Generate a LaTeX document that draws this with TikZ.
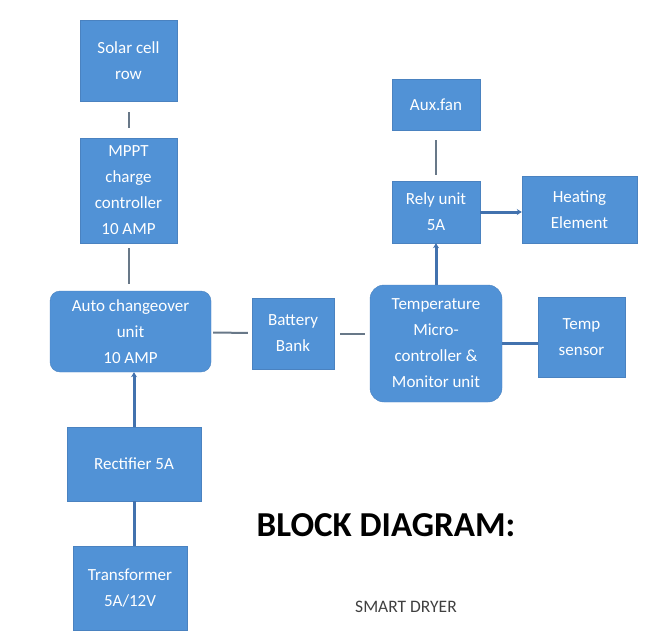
\documentclass[tikz,border=0pt]{standalone}
\usepackage{fontspec}
\setmainfont{Carlito}
\usetikzlibrary{arrows.meta}
\definecolor{blockblue}{HTML}{5192D6}
\definecolor{blockedge}{HTML}{4A82C0}
\definecolor{wiregray}{HTML}{687888}
\definecolor{wireblue}{HTML}{4272AE}
\begin{document}
\begin{tikzpicture}[x=1pt,y=-1pt,
    block/.style={draw=blockedge,fill=blockblue,text=white,align=center,inner sep=2pt,
      font=\fontsize{17}{26}\selectfont},
    wire/.style={draw=wiregray,line width=2pt},
    feed/.style={draw=wireblue,line width=3pt,-{Stealth[length=5pt,width=6pt]}}]
  \useasboundingbox (0,0) rectangle (645,630);
  \draw
    (128.5,60.5) node[block,minimum width=97pt,minimum height=81pt] (solar){Solar cell\\row}
    (128.5,190.5) node[block,minimum width=97pt,minimum height=105pt] (mppt){MPPT\\charge\\controller\\10 AMP}
    (130.5,331.5) node[block,rounded corners=10pt,minimum width=161pt,minimum height=81pt] (auto){Auto changeover\\unit\\10 AMP}
    (293,333.5) node[block,minimum width=82pt,minimum height=71pt] (battery){Battery\\Bank}
    (436,343.5) node[block,rounded corners=14pt,minimum width=132pt,minimum height=117pt] (temp){Temperature\\Micro-\\controller \&\\Monitor unit}
    (581.5,337) node[block,minimum width=87pt,minimum height=80pt] (sensor){Temp\\sensor}
    (436,212) node[block,minimum width=88pt,minimum height=62pt] (rely){Rely unit\\5A}
    (436,104.5) node[block,minimum width=88pt,minimum height=51pt] (auxfan){Aux.fan}
    (579.5,209.5) node[block,minimum width=115pt,minimum height=67pt] (heater){Heating\\Element}
    (134,464) node[block,minimum width=134pt,minimum height=74pt] (rectifier){Rectifier 5A}
    (130,588) node[block,minimum width=114pt,minimum height=84pt] (transformer){Transformer\\5A/12V}
    (386,525) node[font=\fontsize{35}{40}\selectfont\bfseries] (title){BLOCK DIAGRAM:}
    (406,607) node[font=\fontsize{17.5}{20}\selectfont,text=black!75] (subtitle){SMART DRYER};
  \begin{scope}[wire]
    \draw[shorten <=11pt,shorten >=10pt] (solar) -- (mppt);
    \draw[shorten <=5pt,shorten >=7pt] (mppt) -- (mppt.south |- auto.north);
    \draw[shorten <=2pt,shorten >=4pt] (auto) -- (battery);
    \draw[shorten <=6pt,shorten >=5pt] (battery.east) -- (battery.east -| temp.west);
    \draw[shorten <=10pt,shorten >=6pt] (auxfan) -- (rely);
    \draw[line width=3pt,draw=wireblue] (temp.east) -- (temp.east -| sensor.west);
    \draw[line width=3pt,draw=wireblue] (rectifier.south) -- (rectifier.south |- transformer.north);
  \end{scope}
  \begin{scope}[feed]
    \draw (rectifier.north) -- (rectifier.north |- auto.south);
    \draw (temp) -- (rely);
    \draw (rely.east) -- (rely.east -| heater.west);
  \end{scope}
\end{tikzpicture}
\end{document}
